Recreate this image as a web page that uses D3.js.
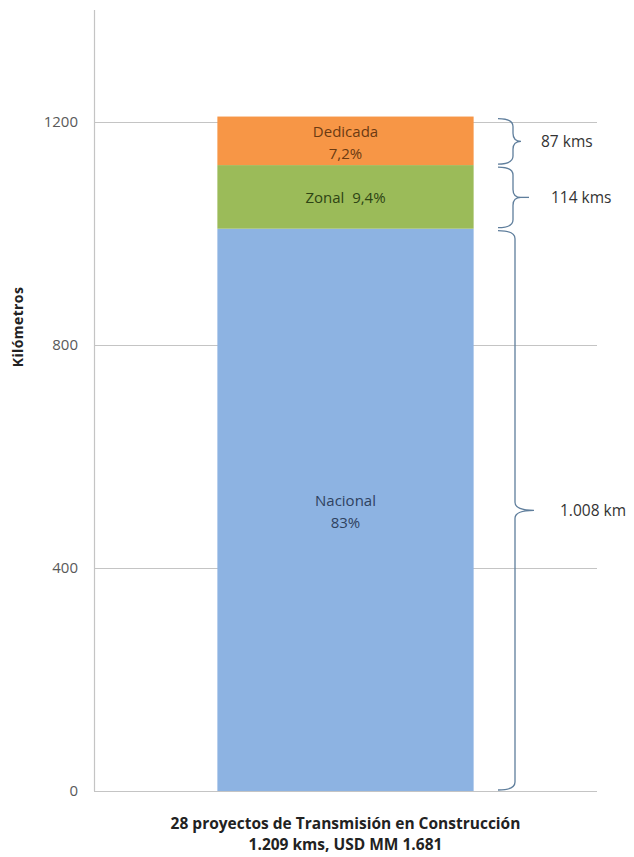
<!DOCTYPE html>
<html>
<head>
<meta charset="utf-8">
<script src="https://cdn.jsdelivr.net/npm/d3@7"></script>
<style>
  body { margin: 0; background: #fff; }
  text { font-family: "Open Sans", "Liberation Sans", sans-serif; }
</style>
</head>
<body>
<svg id="chart"></svg>
<script>
// chart data
var category = "28 proyectos de Transmisión en Construcción"
var segments = ["Nacional", "Zonal", "Dedicada"]
var kms = [1008, 114, 87]
var pctLabels = ["83%", "9,4%", "7,2%"]
var braceLabels = ["1.008 km", "114 kms", "87 kms"]
var yTicks = [0, 400, 800, 1200]
var subtitle = "1.209 kms, USD MM 1.681"

// set the dimensions
var width = 634
    height = 857

var svg = d3.select("#chart")
    .attr("width", width)
    .attr("height", height)

var colors = { Nacional: "#8db3e2", Zonal: "#9bbb59", Dedicada: "#f79646" }
var textColors = { Nacional: "#2f4260", Zonal: "#2e4414", Dedicada: "#6b3a12" }

var x = d3.scaleBand()
    .domain([category])
    .range([94, 597])
    .paddingInner(0.325)
    .paddingOuter(0.325)

var y = d3.scaleLinear()
    .domain([0, 1400])
    .range([791, 10])

// stack the segments
var stackData = [{}]
segments.forEach(function(s, i) { stackData[0][s] = kms[i] })
var stacked = d3.stack().keys(segments)(stackData)

// gridlines
svg.selectAll(".grid")
    .data(yTicks)
    .enter()
    .append("line")
    .attr("x1", 94)
    .attr("x2", 597)
    .attr("y1", function(d) { return Math.round(y(d)) + 0.5 })
    .attr("y2", function(d) { return Math.round(y(d)) + 0.5 })
    .attr("stroke", "#c4c4c4")
    .attr("stroke-width", 1.2)

// y axis line
svg.append("line")
    .attr("x1", 94.5).attr("x2", 94.5)
    .attr("y1", y(1400)).attr("y2", y(0))
    .attr("stroke", "#c4c4c4")
    .attr("stroke-width", 1.2)

var yAxis = svg.append("g")
    .attr("transform", "translate(78,0)")
    .call(d3.axisLeft(y).tickValues(yTicks).tickSize(0).tickPadding(0).tickFormat(d3.format("d")))
yAxis.select(".domain").remove()
yAxis.selectAll("text")
    .style("font-family", "'Open Sans', sans-serif")
    .style("font-size", "15px")
    .attr("fill", "#595959")

// axis title
svg.append("text")
    .attr("transform", "translate(23,327) rotate(-90)")
    .attr("text-anchor", "middle")
    .style("font-size", "14px")
    .style("font-weight", "bold")
    .style("letter-spacing", "0.4px")
    .attr("fill", "#222")
    .text("Kilómetros")

// bars
svg.selectAll(".seg")
    .data(stacked)
    .enter()
    .append("rect")
    .attr("x", x(category))
    .attr("width", x.bandwidth())
    .attr("y", function(d) { return y(d[0][1]) })
    .attr("height", function(d) { return y(d[0][0]) - y(d[0][1]) })
    .attr("fill", function(d) { return colors[d.key] })

// segment labels
var cx = x(category) + x.bandwidth() / 2
stacked.forEach(function(d, i) {
    var mid = y((d[0][0] + d[0][1]) / 2)
    var t = svg.append("text")
        .attr("x", cx)
        .attr("text-anchor", "middle")
        .style("font-size", "15px")
        .attr("fill", textColors[d.key])
    if (d.key == "Zonal") {
        t.attr("y", mid + 6).text(d.key + "  " + pctLabels[i]).attr("xml:space", "preserve")
    } else {
        t.append("tspan").attr("x", cx).attr("y", mid - 4).text(d.key)
        t.append("tspan").attr("x", cx).attr("y", mid + 18).text(pctLabels[i])
    }
})

// braces
var tipLen = [19, 8, 8]
var labelX = [560, 551, 541]
function bracePath(y0, y1, xl, xv, xt) {
    var ym = (y0 + y1) / 2, r = Math.min(8, (y1 - y0) / 4)
    return "M" + xl + "," + y0 +
        " Q" + xv + "," + y0 + " " + xv + "," + (y0 + r) +
        " L" + xv + "," + (ym - r) +
        " Q" + xv + "," + ym + " " + xt + "," + ym +
        " Q" + xv + "," + ym + " " + xv + "," + (ym + r) +
        " L" + xv + "," + (y1 - r) +
        " Q" + xv + "," + y1 + " " + xl + "," + y1
}
stacked.forEach(function(d, i) {
    var y0 = y(d[0][1]) + 2, y1 = y(d[0][0]) - 1
    var xv = i == 0 ? 515 : 513
    svg.append("path")
        .attr("d", bracePath(y0, y1, 498, xv, xv + tipLen[i]))
        .attr("fill", "none")
        .attr("stroke", "#5f7e9c")
        .attr("stroke-width", 1.3)
    var ym = (y0 + y1) / 2
    if (d.key == "Zonal") {
        svg.append("line")
            .attr("x1", xv + tipLen[i]).attr("x2", 529)
            .attr("y1", ym).attr("y2", ym)
            .attr("stroke", "#5f7e9c")
            .attr("stroke-width", 1.3)
    }
    svg.append("text")
        .attr("x", labelX[i])
        .attr("y", ym + 6)
        .style("font-size", "15.5px")
        .attr("fill", "#333")
        .text(braceLabels[i])
})

// category title
svg.append("text")
    .attr("x", cx)
    .attr("y", 829)
    .attr("text-anchor", "middle")
    .style("font-size", "15.5px")
    .style("font-weight", "bold")
    .attr("fill", "#222")
    .text(category)
svg.append("text")
    .attr("x", cx)
    .attr("y", 850)
    .attr("text-anchor", "middle")
    .style("font-size", "15.5px")
    .style("font-weight", "bold")
    .attr("fill", "#222")
    .text(subtitle)
</script>
</body>
</html>
